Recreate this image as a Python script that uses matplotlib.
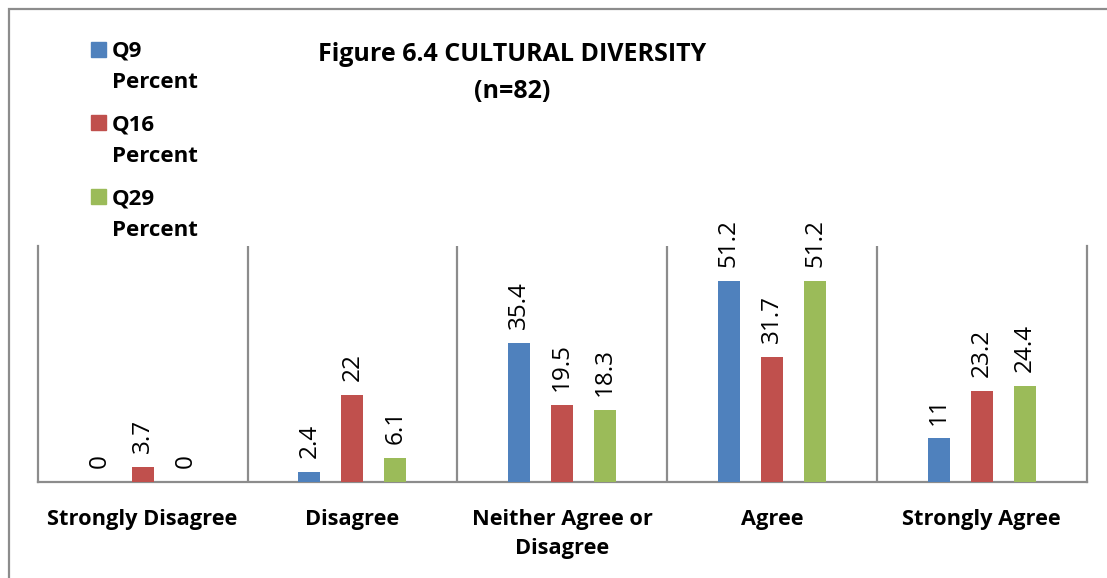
import matplotlib
matplotlib.use("Agg")
import matplotlib.pyplot as plt
from matplotlib.patches import Rectangle
import numpy as np

# Response categories and percentages per question
categories = ["Strongly Disagree", "Disagree", "Neither Agree or\nDisagree", "Agree", "Strongly Agree"]
series_names = ["Q9 Percent", "Q16 Percent", "Q29 Percent"]
q9 = [0, 2.4, 35.4, 51.2, 11]
q16 = [3.7, 22, 19.5, 31.7, 23.2]
q29 = [0, 6.1, 18.3, 51.2, 24.4]
series_values = [q9, q16, q29]
value_labels = [["0", "2.4", "35.4", "51.2", "11"],
                ["3.7", "22", "19.5", "31.7", "23.2"],
                ["0", "6.1", "18.3", "51.2", "24.4"]]
colors = ["#4F81BD", "#C0504D", "#9BBB59"]
title_lines = ["Figure 6.4 CULTURAL DIVERSITY", "(n=82)"]

FONT = "Open Sans"

W, H = 1107, 578
fig = plt.figure(figsize=(W / 100, H / 100), dpi=100)
fig.patch.set_facecolor("white")

def fx(px):
    return px / W

def fy(py):
    return 1 - py / H

grid_col = "#8C8C8C"

# Outer chart frame (only top and left edges fall inside the image)
fig.patches.append(Rectangle((fx(8.5), fy(700)), fx(1300), fy(8.5) - fy(700),
                             transform=fig.transFigure, fill=False,
                             edgecolor="#8C8C8C", linewidth=1.6))

ax_left, ax_right = 37.7, 1086.7
ax_bottom, ax_top = 481.7, 246.0
ax = fig.add_axes([fx(ax_left), fy(ax_bottom), fx(ax_right - ax_left), (ax_bottom - ax_top) / H])

x = np.arange(len(categories))
offset = 0.205
width = 0.105
for i, (vals, col) in enumerate(zip(series_values, colors)):
    pos = x + (i - 1) * offset
    bars = ax.bar(pos, vals, width=width, color=col, zorder=3)
    for b, v, lab in zip(bars, vals, value_labels[i]):
        ax.annotate(lab, (b.get_x() + b.get_width() / 2, v),
                    xytext=(0, 10), textcoords="offset points",
                    rotation=90, ha="center", va="bottom",
                    fontsize=17.5, family=FONT, color="black")

ax.set_xlim(-0.5, len(categories) - 0.5)
ax.set_ylim(0, 60)
for b in np.arange(0.5, len(categories) - 0.5, 1.0):
    ax.axvline(b, color=grid_col, linewidth=1.6, zorder=1)

ax.spines["top"].set_visible(False)
for s in ["left", "right", "bottom"]:
    ax.spines[s].set_color(grid_col)
    ax.spines[s].set_linewidth(1.6)
ax.set_yticks([])
ax.set_xticks(x)
ax.set_xticklabels(categories, fontsize=15.7, fontweight="bold", family=FONT,
                   linespacing=1.45)
ax.tick_params(axis="x", length=0, pad=20)

# Title
fig.text(fx(512), fy(61), title_lines[0], ha="center", va="baseline",
         fontsize=18, fontweight="bold", family=FONT)
fig.text(fx(512), fy(98), title_lines[1], ha="center", va="baseline",
         fontsize=18, fontweight="bold", family=FONT)

# Legend: colour square beside a two-line series name
legend_first_baselines = [57, 130, 204]
for name, col, base in zip(series_names, colors, legend_first_baselines):
    fig.patches.append(Rectangle((fx(91), fy(base)), fx(15), 15 / H,
                                 transform=fig.transFigure, color=col))
    for k, line in enumerate(name.split(" ")):
        fig.text(fx(112), fy(base + 31.5 * k), line, ha="left", va="baseline",
                 fontsize=16, fontweight="bold", family=FONT)

fig.savefig("out.png", dpi=100)
